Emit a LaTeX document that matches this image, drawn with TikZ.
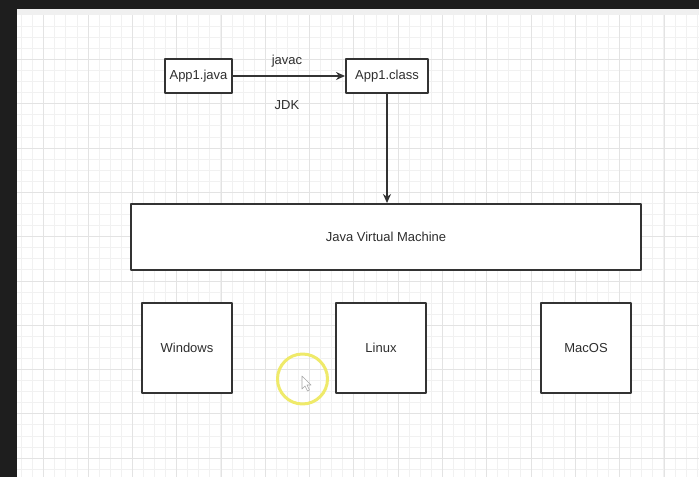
\documentclass[tikz,border=0pt]{standalone}
\usepackage{fontspec}
\setmainfont{Liberation Sans}
\usetikzlibrary{arrows.meta}
\definecolor{boxline}{HTML}{333333}
\definecolor{txt}{HTML}{2E2E2E}
\definecolor{frame}{HTML}{1E1E1E}
\definecolor{hilite}{HTML}{EFEA6A}
\begin{document}
\begin{tikzpicture}[x=1pt, y=-1pt, font=\fontsize{13}{15}\selectfont, line join=round, >={Stealth[length=9pt,width=8pt]},
  box/.style={draw=boxline, line width=2pt, fill=white, text=txt, inner sep=0pt},
  lbl/.style={text=txt, inner sep=0pt}]
  \def\xmin{17} \def\xmax{699}
  \def\ymin{15} \def\ymax{477}
  \useasboundingbox (0,0) rectangle (699,477);
  \fill[white] (\xmin,\ymin) rectangle (\xmax,\ymax);
  % grid
  \foreach \x in {0,...,61} \fill[gray!11] ({round(21.15+11.075*\x)},\ymin) rectangle ++(1,\ymax-\ymin);
  \foreach \y in {0,...,40} \fill[gray!11] (\xmin,{round(25.8+11.075*\y)}) rectangle ++(\xmax-\xmin,1);
  \foreach \x in {0,...,14} \fill[gray!22] ({round(43.3+44.3*\x)},\ymin) rectangle ++(1,\ymax-\ymin);
  \foreach \y in {0,...,9} \fill[gray!22] (\xmin,{round(59+44.3*\y)}) rectangle ++(\xmax-\xmin,1);
  % window frame
  \fill[frame] (0,0) rectangle (699,9);
  \fill[frame] (0,0) rectangle (\xmin,477);
  \fill[gray!12] (\xmin,9) rectangle (\xmax,\ymin);
  % boxes
  \node[box, minimum width=67pt, minimum height=34pt] (java) at (198.5,76) {App1.java};
  \node[box, minimum width=82pt, minimum height=34pt] (cls) at (387,76) {App1.class};
  \node[box, minimum width=510pt, minimum height=66pt] (jvm) at (386,237) {Java Virtual Machine};
  \foreach \n/\t/\x in {win/Windows/187, lin/Linux/381, mac/MacOS/586}
    \node[box, minimum width=90pt, minimum height=90pt] (\n) at (\x,348) {\t};
  \node[lbl] (javac) at (287,61) {javac};
  \node[lbl] (jdk) at (287,105) {JDK};
  \draw[->, boxline, line width=2pt] (java.east)--(cls.west);
  \draw[->, boxline, line width=2pt] (cls.south)--(cls.south |- jvm.north);
  % cursor highlight
  \draw[hilite, line width=3pt] (302.5,379) circle (25);
  \draw[gray!70, fill=white, line width=0.6pt] (302,376)--(302,389)--(305,386)--(307.5,391)--(309.5,390)--(307,385)--(311,385)--cycle;
\end{tikzpicture}
\end{document}
